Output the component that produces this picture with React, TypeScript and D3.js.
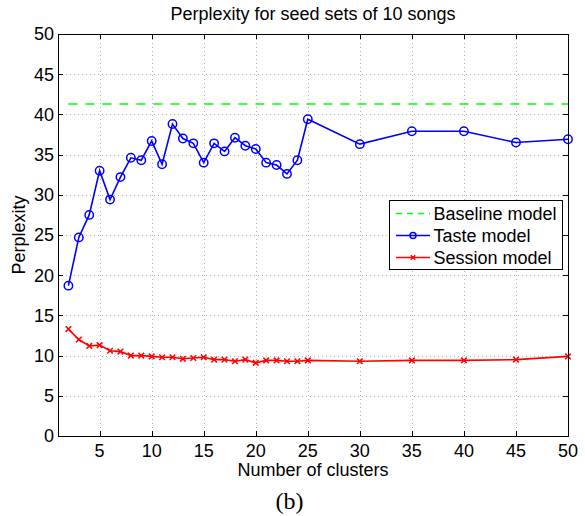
import * as d3 from "d3";
import { useEffect, useRef } from "react";

// cluster counts on the x axis
const clusters = [2, 3, 4, 5, 6, 7, 8, 9, 10, 11, 12, 13, 14, 15, 16, 17, 18, 19, 20, 21, 22, 23, 24, 25, 30, 35, 40, 45, 50];
const tasteValues = [18.7, 24.7, 27.5, 33.0, 29.4, 32.2, 34.6, 34.3, 36.7, 33.8, 38.8, 37.0, 36.4, 34.0, 36.4, 35.4, 37.1, 36.1, 35.7, 34.0, 33.7, 32.6, 34.3, 39.4, 36.3, 37.9, 37.9, 36.5, 36.9];
const sessionValues = [13.3, 12.0, 11.2, 11.3, 10.6, 10.5, 10.0, 10.0, 9.9, 9.8, 9.8, 9.6, 9.7, 9.8, 9.5, 9.5, 9.3, 9.5, 9.1, 9.4, 9.4, 9.3, 9.3, 9.4, 9.3, 9.4, 9.4, 9.5, 9.9];
const baselineValue = 41.3;
const xTicks = [5, 10, 15, 20, 25, 30, 35, 40, 45, 50];
const yTicks = [0, 5, 10, 15, 20, 25, 30, 35, 40, 45, 50];
const legendLabels = ["Baseline model", "Taste model", "Session model"];

export default function App() {
  const ref = useRef<SVGSVGElement>(null);
  const width = 585,
    height = 516;
  const margin = { top: 34, right: 17, bottom: 80, left: 58 };
  const font = "'Liberation Sans', Arial, Helvetica, sans-serif";

  useEffect(() => {
    const svg = d3.select(ref.current);
    svg.selectAll("*").remove();

    const x = d3.scaleLinear().domain([1, 50]).range([margin.left, width - margin.right]);
    const y = d3.scaleLinear().domain([0, 50]).range([height - margin.bottom, margin.top]);
    const [x0, x1] = x.range();
    const [y0, y1] = y.range();

    svg.append("rect").attr("x", x0).attr("y", y1).attr("width", x1 - x0).attr("height", y0 - y1).attr("fill", "white");

    // dotted grid
    const grid = svg.append("g").attr("stroke", "#b0b0b0").attr("stroke-width", 1).attr("stroke-dasharray", "1,3");
    xTicks.forEach((t) => {
      grid.append("line").attr("x1", Math.round(x(t)) + 0.5).attr("x2", Math.round(x(t)) + 0.5).attr("y1", y0).attr("y2", y1);
    });
    yTicks.forEach((t) => {
      grid.append("line").attr("x1", x0).attr("x2", x1).attr("y1", Math.round(y(t)) + 0.5).attr("y2", Math.round(y(t)) + 0.5);
    });

    // tick marks inside on all four sides
    const ticks = svg.append("g").attr("stroke", "black").attr("stroke-width", 1);
    xTicks.forEach((t) => {
      const px = Math.round(x(t)) + 0.5;
      ticks.append("line").attr("x1", px).attr("x2", px).attr("y1", y0).attr("y2", y0 - 5);
      ticks.append("line").attr("x1", px).attr("x2", px).attr("y1", y1).attr("y2", y1 + 5);
    });
    yTicks.forEach((t) => {
      const py = Math.round(y(t)) + 0.5;
      ticks.append("line").attr("x1", x0).attr("x2", x0 + 5).attr("y1", py).attr("y2", py);
      ticks.append("line").attr("x1", x1).attr("x2", x1 - 5).attr("y1", py).attr("y2", py);
    });

    // tick labels
    svg
      .append("g")
      .selectAll("text")
      .data(xTicks)
      .join("text")
      .attr("x", (d) => x(d))
      .attr("y", y0 + 21)
      .attr("text-anchor", "middle")
      .attr("font-family", font)
      .attr("font-size", 18)
      .text((d) => d);
    svg
      .append("g")
      .selectAll("text")
      .data(yTicks)
      .join("text")
      .attr("x", x0 - 4)
      .attr("y", (d) => y(d))
      .attr("dy", "0.36em")
      .attr("text-anchor", "end")
      .attr("font-family", font)
      .attr("font-size", 18)
      .text((d) => d);

    // baseline
    svg
      .append("line")
      .attr("x1", x(clusters[0]))
      .attr("x2", x(50))
      .attr("y1", y(baselineValue))
      .attr("y2", y(baselineValue))
      .attr("stroke", "#00ff00")
      .attr("stroke-width", 1.5)
      .attr("stroke-dasharray", "9,8");

    const line = d3
      .line<number>()
      .x((_, i) => x(clusters[i]))
      .y((d) => y(d));

    // taste model
    svg.append("path").datum(tasteValues).attr("d", line).attr("fill", "none").attr("stroke", "#0000ff").attr("stroke-width", 1.6);
    svg
      .append("g")
      .selectAll("circle")
      .data(tasteValues)
      .join("circle")
      .attr("cx", (_, i) => x(clusters[i]))
      .attr("cy", (d) => y(d))
      .attr("r", 4.2)
      .attr("fill", "none")
      .attr("stroke", "#0000ff")
      .attr("stroke-width", 1.5);

    // session model
    svg.append("path").datum(sessionValues).attr("d", line).attr("fill", "none").attr("stroke", "#ff0000").attr("stroke-width", 1.6);
    const cross = (g: any, cx: number, cy: number, s: number) => {
      g.append("path")
        .attr("d", `M${cx - s},${cy - s}L${cx + s},${cy + s}M${cx - s},${cy + s}L${cx + s},${cy - s}`)
        .attr("stroke", "#ff0000")
        .attr("stroke-width", 1.5);
    };
    const crosses = svg.append("g");
    sessionValues.forEach((v, i) => cross(crosses, x(clusters[i]), y(v), 2.8));

    // box
    svg.append("rect").attr("x", x0 + 0.5).attr("y", y1 + 0.5).attr("width", x1 - x0).attr("height", y0 - y1).attr("fill", "none").attr("stroke", "black").attr("stroke-width", 1);

    // legend
    const lg = svg.append("g");
    lg.append("rect").attr("x", 389.5).attr("y", 200.5).attr("width", 173).attr("height", 69).attr("fill", "white").attr("stroke", "black").attr("stroke-width", 1);
    const rowY = [213.5, 235.5, 257.5];
    const colors = ["#00ff00", "#0000ff", "#ff0000"];
    legendLabels.forEach((lab, i) => {
      lg.append("line")
        .attr("x1", 396)
        .attr("x2", 430)
        .attr("y1", rowY[i])
        .attr("y2", rowY[i])
        .attr("stroke", colors[i])
        .attr("stroke-width", 1.5)
        .attr("stroke-dasharray", i === 0 ? "6,5" : null);
      if (i === 1) lg.append("circle").attr("cx", 413).attr("cy", rowY[i]).attr("r", 3).attr("fill", "none").attr("stroke", colors[i]).attr("stroke-width", 1.5);
      if (i === 2) cross(lg, 413, rowY[i], 2.2);
      lg.append("text").attr("x", 433.5).attr("y", rowY[i] + 6.3).attr("font-family", font).attr("font-size", 18).text(lab);
    });

    // titles
    svg.append("text").attr("x", (x0 + x1) / 2).attr("y", 20).attr("text-anchor", "middle").attr("font-family", font).attr("font-size", 18).text("Perplexity for seed sets of 10 songs");
    svg.append("text").attr("x", (x0 + x1) / 2).attr("y", 476).attr("text-anchor", "middle").attr("font-family", font).attr("font-size", 18).text("Number of clusters");
    svg
      .append("text")
      .attr("transform", `translate(25,${(y0 + y1) / 2}) rotate(-90)`)
      .attr("text-anchor", "middle")
      .attr("font-family", font)
      .attr("font-size", 18)
      .text("Perplexity");
    svg.append("text").attr("x", 289.5).attr("y", 509).attr("text-anchor", "middle").attr("font-family", "'Liberation Serif', 'DejaVu Serif', serif").attr("font-size", 24).text("(b)");
  }, []);

  return <svg ref={ref} width={width} height={height} style={{ position: "absolute", left: 0, top: 0, background: "white" }} />;
}
